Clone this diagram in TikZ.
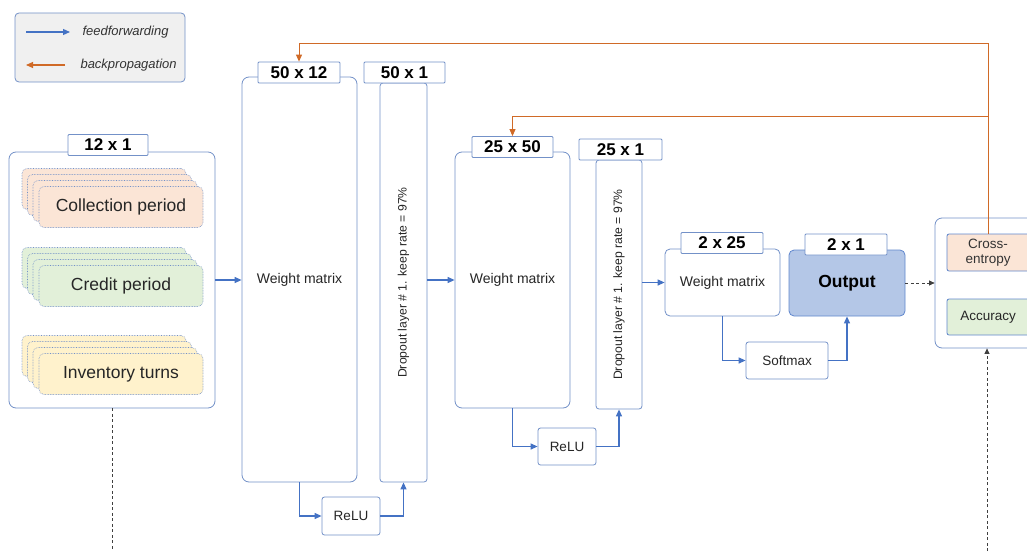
\documentclass[tikz,border=0pt]{standalone}
\usepackage{fontspec}
\setmainfont{Liberation Sans}
\usetikzlibrary{arrows.meta,calc}
\definecolor{bord}{HTML}{7391C8}
\definecolor{ffblue}{HTML}{4472C4}
\definecolor{bporange}{HTML}{D06A27}
\definecolor{pinkf}{HTML}{FBE5D6}
\definecolor{greenf}{HTML}{E2F0D9}
\definecolor{yellowf}{HTML}{FFF2CC}
\definecolor{outf}{HTML}{B4C7E7}
\definecolor{legf}{HTML}{F0F0F0}
\definecolor{txt}{HTML}{262626}
\newcommand{\fs}[1]{\fontsize{#1}{#1}\selectfont}
\tikzset{
  box/.style={draw=bord, line width=0.8pt, rounded corners=7pt, fill=white, inner sep=0pt, text=txt},
  smallbox/.style={draw=bord, line width=0.8pt, rounded corners=2.5pt, fill=white, inner sep=0pt, font=\fs{13.5}, text=txt},
  dimlabel/.style={draw=bord, line width=0.8pt, rounded corners=1pt, fill=white, inner sep=0pt, minimum height=21pt, font=\bfseries\fs{17}},
  card/.style={draw=bord, densely dotted, line width=0.6pt, rounded corners=5pt, minimum width=164pt, minimum height=41pt, inner sep=0pt, font=\fs{17.5}, text=txt},
  ff/.style={draw=ffblue, line width=1.2pt, -{Triangle[length=7pt,width=6pt]}},
  bp/.style={draw=bporange, line width=0.9pt, -{Triangle[length=7pt,width=6pt]}},
  dashln/.style={draw=black!75, line width=0.8pt, dash pattern=on 3pt off 2.5pt},
}
\begin{document}
\begin{tikzpicture}[x=1pt,y=-1pt]
\useasboundingbox (0,0) rectangle (1027,551);
\clip (0,0) rectangle (1027,551);

% legend
\node[draw=bord, line width=0.8pt, rounded corners=4pt, fill=legf, minimum width=170pt, minimum height=69pt, inner sep=0pt] (leg) at (100,47.5) {};
\coordinate (fa) at (26,32); \coordinate (fb) at (70,32);
\coordinate (ba) at (65,65); \coordinate (bb) at (26,65);
\draw[ff] (fa) -- (fb);
\draw[bp, line width=1.1pt] (ba) -- (bb);
\node[font=\itshape\fs{13}, text=black!80, anchor=west] (lff) at (79,32) {feedforwarding};
\node[font=\itshape\fs{13}, text=black!80, anchor=west] (lbp) at (77,65) {backpropagation};

% input
\node[box, minimum width=206pt, minimum height=256pt] (input) at (112,280) {};
\node[dimlabel, minimum width=80pt] (l12x1) at (108,145) {12 x 1};
\foreach \k/\dx/\dy in {a/-17/-18, b/-11.5/-12, c/-6/-6}{
  \node[card, fill=pinkf] (col\k) at (121+\dx,207+\dy) {};
  \node[card, fill=greenf] (cre\k) at (121+\dx,286+\dy) {};
  \node[card, fill=yellowf] (inv\k) at (121+\dx,374+\dy) {};
}
\node[card, fill=pinkf] (col) at (121,207) {Collection period};
\node[card, fill=greenf] (cre) at (121,286) {Credit period};
\node[card, fill=yellowf] (inv) at (121,374) {Inventory turns};

% layer 1
\node[box, minimum width=115pt, minimum height=405pt, font=\fs{14}] (wm1) at (299.5,279.5) {Weight matrix};
\node[dimlabel, minimum width=82pt] (l50x12) at (299,72.5) {50 x 12};
\node[box, rounded corners=3pt, minimum width=47pt, minimum height=399pt,
  label={[rotate=90, font=\fs{12.2}, text=txt]center:Dropout layer \# 1. keep rate = 97\%}] (do1) at (403.5,282.5) {};
\node[dimlabel, minimum width=81pt] (l50x1) at (404.5,72.5) {50 x 1};
\node[smallbox, minimum width=58pt, minimum height=38pt] (relu1) at (351,516) {ReLU};

% layer 2
\node[box, minimum width=115pt, minimum height=256pt, font=\fs{14}] (wm2) at (512.5,280) {Weight matrix};
\node[dimlabel, minimum width=81pt] (l25x50) at (512.5,147) {25 x 50};
\node[box, rounded corners=3pt, minimum width=46pt, minimum height=249pt,
  label={[rotate=90, font=\fs{12.2}, text=txt]center:Dropout layer \# 1. keep rate = 97\%}] (do2) at (619,284.5) {};
\node[dimlabel, minimum width=83pt] (l25x1) at (620.5,149.5) {25 x 1};
\node[smallbox, minimum width=58pt, minimum height=37pt] (relu2) at (567,446.5) {ReLU};

% layer 3
\node[box, rounded corners=5pt, minimum width=115pt, minimum height=67pt, font=\fs{14}] (wm3) at (722.5,282.5) {Weight matrix};
\node[dimlabel, minimum width=82pt] (l2x25) at (722,243) {2 x 25};
\node[box, rounded corners=5pt, fill=outf, draw=ffblue!85, minimum width=116pt, minimum height=66pt, font=\bfseries\fs{17.5}, text=black] (out) at (847,283) {Output};
\node[dimlabel, minimum width=82pt] (l2x1) at (846,244.5) {2 x 1};
\node[smallbox, minimum width=82pt, minimum height=37pt] (soft) at (787,360.5) {Softmax};

% loss
\node[box, minimum width=106pt, minimum height=130pt] (loss) at (988,283) {};
\node[smallbox, rounded corners=2pt, fill=pinkf, draw=ffblue!85, minimum width=82pt, minimum height=37pt, align=center, font=\fs{13.5}, text=black!80] (ce) at (988,252.5) {Cross-\\[1pt]entropy};
\node[smallbox, rounded corners=2pt, fill=greenf, draw=ffblue!85, minimum width=82pt, minimum height=36pt, font=\fs{13.5}] (acc) at (988,317) {Accuracy};

% feedforward connectors
\draw[ff] (input.east) -- (wm1.west |- input.east);
\draw[ff] (wm1.south) |- (relu1.west);
\draw[ff] (relu1.east) -| (do1.south);
\draw[ff] (do1.east |- wm2.west) -- (wm2.west);
\draw[ff] (wm2.south) |- (relu2.west);
\draw[ff] (relu2.east) -| (do2.south);
\draw[ff] (do2.east |- wm3.west) -- (wm3.west);
\draw[ff] (wm3.south) |- (soft.west);
\draw[ff] (soft.east) -| (out.south);

% dashed
\draw[dashln, -{Triangle[length=5.5pt,width=5pt]}] (out.east) -- (loss.west);
\coordinate (bot1) at (112,551);
\draw[dashln] (input.south) -- (bot1);
\coordinate (bot2) at (987,551);
\draw[dashln, -{Triangle[length=5.5pt,width=5pt]}] (bot2) -- (bot2 |- loss.south);

% backpropagation
\coordinate (top1) at (988,43);
\coordinate (top2) at (988,116);
\draw[bp] (ce.north) -- (top1) -| (l50x12.north);
\draw[bp] (top2) -| (l25x50.north);
\end{tikzpicture}
\end{document}
